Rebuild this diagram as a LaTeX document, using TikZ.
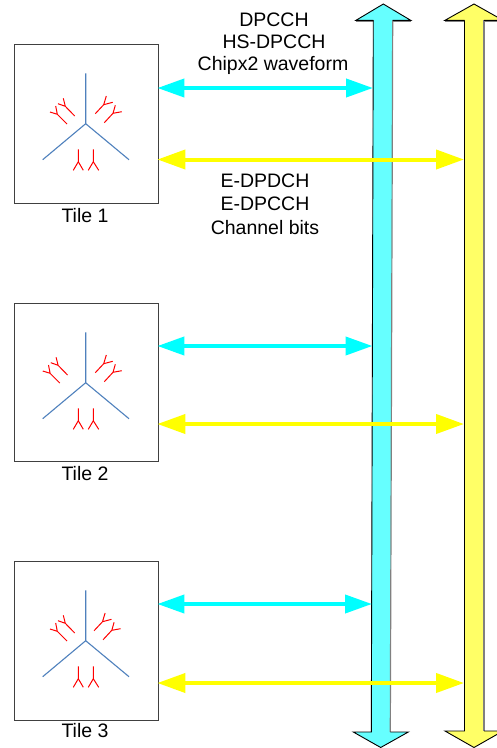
\documentclass[tikz,border=0pt]{standalone}
\usepackage{fontspec}
\setmainfont{Liberation Sans}
\usetikzlibrary{arrows.meta}
\definecolor{lcyan}{RGB}{0,255,255}
\definecolor{lyellow}{RGB}{255,255,0}
\definecolor{bcyan}{RGB}{102,255,255}
\definecolor{byellow}{RGB}{255,255,102}
\definecolor{mastblue}{RGB}{79,129,189}
\definecolor{ared}{RGB}{255,0,0}
\tikzset{
  x=1pt,y=-1pt,
  tilebox/.style={draw=black!75,line width=0.9pt,fill=white,minimum width=144pt,minimum height=159pt,inner sep=0pt,anchor=north west},
  lab/.style={font=\fontsize{19.5}{22}\selectfont,inner sep=0pt,anchor=center,text=black},
  mast/.style={draw=mastblue,line width=1.1pt},
  ant/.style={draw=ared,line width=1pt},
  cyanlink/.style={draw=lcyan,line width=4pt,{Triangle[length=27pt,width=18pt,sep=-1.5pt,fill=lcyan]}-{Triangle[length=27pt,width=18pt,fill=lcyan]}},
  yellowlink/.style={draw=lyellow,line width=4pt,{Triangle[length=28pt,width=19pt,sep=-1.5pt,fill=lyellow]}-{Triangle[length=28pt,width=19pt,fill=lyellow]}},
  busline/.style={draw=black,line width=0.9pt,line join=miter},
  busshade/.style={draw=black!50,line width=1.2pt},
  pics/tileant/.style 2 args={code={
    \draw[mast] (71.7,29.3)--(71.7,79.7) (28.7,115.7)--(71.7,79.7)--(115,115.7);
    \draw[ant] (64.3,105.3)--(64.3,117.7) (59.3,126.3)--(64.3,117.7)--(69.3,126.3);
    \draw[ant] (79.3,105.3)--(79.3,117.7) (74.3,126.3)--(79.3,117.7)--(84.7,126.3);
    \begin{scope}[xshift=#2pt]
    \draw[ant] (81.3,69.7)--(89.7,60.7) (92.3,52)--(89.7,60.7)--(98.7,58.3);
    \draw[ant] (90.3,78.7)--(99,69.3) (101.3,61.3)--(99,69.3)--(107.7,67.7);
    \end{scope}
    \begin{scope}[xshift=#1pt]
    \draw[ant] (60.7,72)--(51.3,62.3) (44,59.7)--(51.3,62.3)--(49.3,54.3);
    \draw[ant] (53,80)--(43.3,70.3) (36,68)--(43.3,70.3)--(41.7,62);
    \end{scope}
  }}
}
\begin{document}
\begin{tikzpicture}
\useasboundingbox (0,0) rectangle (496,748);

% tiles
\node[tilebox] (tile1) at (14,44) {};
\node[tilebox,minimum height=158pt] (tile2) at (14,303) {};
\node[tilebox] (tile3) at (14,561) {};
\pic at (14,44) {tileant={0}{0}};
\pic at (14,303) {tileant={-7.2}{0}};
\pic at (14,561) {tileant={0}{-1.2}};
\node[lab] (tl1) at (85,216) {Tile 1};
\node[lab] (tl2) at (85,474) {Tile 2};
\node[lab] (tl3) at (85,731) {Tile 3};

% cyan bus
\path[fill=bcyan] (383.3,4)--(410.7,20.3)--(392.7,20.3)--(390.3,732)--(408.3,732)--(380.7,747.5)--(353.3,732)--(371.3,732)--(373.3,20.3)--(356,20.3)--cycle;
\draw[busshade] (392.7,20.3)--(390.3,732);
\draw[busshade] (356,21)--(373,21) (393,21)--(410.7,21);
\draw[busline] (373.3,20.3)--(356,20.3)--(383.3,4)--(410.7,20.3)--(392.7,20.3);
\draw[busline] (373.3,20.3)--(371.3,732)--(353.3,732)--(380.7,747.5)--(408.3,732)--(390.3,732);
% yellow bus
\path[fill=byellow] (474,4)--(503,20.3)--(484,20.3)--(484,731)--(503,731)--(474,747.5)--(445,731)--(464.5,731)--(464.5,20.3)--(445,20.3)--cycle;
\draw[busshade] (484,20.3)--(484,731);
\draw[busshade] (445,21)--(464,21) (484,21)--(503,21);
\draw[busline] (464.5,20.3)--(445,20.3)--(474,4)--(503,20.3)--(484,20.3);
\draw[busline] (464.5,20.3)--(464.5,731)--(445,731)--(474,747.5)--(503,731)--(484,731);

% bus ports
\coordinate (c1) at (373,88);
\coordinate (c2) at (372.5,346);
\coordinate (c3) at (372,604);
\coordinate (y1) at (464,159.5);
\coordinate (y2) at (464,424);
\coordinate (y3) at (464,683);

% links
\draw[cyanlink] (tile1.east |- c1) -- (c1);
\draw[yellowlink] (tile1.east |- y1) -- (y1);
\draw[cyanlink] (tile2.east |- c2) -- (c2);
\draw[yellowlink] (tile2.east |- y2) -- (y2);
\draw[cyanlink] (tile3.east |- c3) -- (c3);
\draw[yellowlink] (tile3.east |- y3) -- (y3);

% labels
\node[lab] (a1) at (274,19.5) {DPCCH};
\node[lab] (a2) at (274,42) {HS-DPCCH};
\node[lab] (a3) at (273,65.5) {Chipx2 waveform};
\node[lab] (b1) at (265,181) {E-DPDCH};
\node[lab] (b2) at (265,204) {E-DPCCH};
\node[lab] (b3) at (265,227.5) {Channel bits};
\end{tikzpicture}
\end{document}
